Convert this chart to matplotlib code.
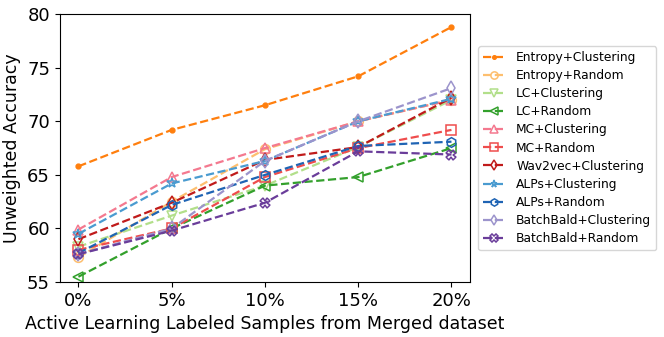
import matplotlib
matplotlib.use('Agg')
import matplotlib.pyplot as plt

# Data
xLabels = ['0%', '5%', '10%', '15%', '20%']

entropyClust = [65.8, 69.2, 71.5, 74.2, 78.8]
entropyRand = [57.3, 62.5, 67.4, 70.0, 72.0]
lcClust = [58.3, 61.2, 64.0, 67.6, 72.0]
lcRand = [55.5, 60.0, 64.0, 64.8, 67.5]
mcClust = [59.9, 64.8, 67.5, 70.0, 72.0]
mcRand = [58.0, 60.0, 64.8, 67.5, 69.2]
wav2vecClust = [59.0, 62.4, 66.4, 67.6, 72.2]
alpsClust = [59.5, 64.2, 66.3, 70.0, 72.1]
alpsRand = [57.7, 62.2, 65.0, 67.7, 68.1]
bbClust = [57.6, 60.0, 66.3, 70.0, 73.1]
bbRand = [57.6, 59.8, 62.4, 67.2, 66.9]

names = ['Entropy+Clustering', 'Entropy+Random', 'LC+Clustering', 'LC+Random',
         'MC+Clustering', 'MC+Random', 'Wav2vec+Clustering', 'ALPs+Clustering',
         'ALPs+Random', 'BatchBald+Clustering', 'BatchBald+Random']
series = [entropyClust, entropyRand, lcClust, lcRand, mcClust, mcRand,
          wav2vecClust, alpsClust, alpsRand, bbClust, bbRand]

colors = ['#ff7f0e', '#fdbf6f', '#b2df8a', '#33a02c', '#f4798f', '#ef4d4d',
          '#c01b1b', '#4a9bd0', '#1f64b4', '#9c94cc', '#6a3d9a']
markers = ['.', 'o', 'v', '<', '^', 's', 'd', '*', 'h', 'd', 'X']

fig = plt.figure(figsize=(6.64, 3.37), dpi=100)
ax = fig.add_axes([0.090, 0.163, 0.618, 0.795])

x = list(range(len(xLabels)))
for vals, name, c, m in zip(series, names, colors, markers):
    if m == '.':
        ax.plot(x, vals, linestyle='--', marker=m, color=c, label=name,
                linewidth=1.6, markersize=7)
    else:
        ax.plot(x, vals, linestyle='--', marker=m, color=c, label=name,
                linewidth=1.6, markersize=7, markerfacecolor='none',
                markeredgewidth=1.1)

ax.set_xticks(x)
ax.set_xticklabels(xLabels, fontsize=13)
ax.set_ylim(55, 80)
ax.set_yticks([55, 60, 65, 70, 75, 80])
ax.tick_params(axis='y', labelsize=13)
ax.set_xlabel('Active Learning Labeled Samples from Merged dataset', fontsize=12.5)
ax.set_ylabel('Unweighted Accuracy', fontsize=12.5)

ax.legend(loc='center left', bbox_to_anchor=(1.005, 0.5), fontsize=8.8,
          markerscale=0.75, labelspacing=0.42, handlelength=1.8,
          handletextpad=0.9, borderpad=0.4)

fig.savefig('out.png', dpi=100)
